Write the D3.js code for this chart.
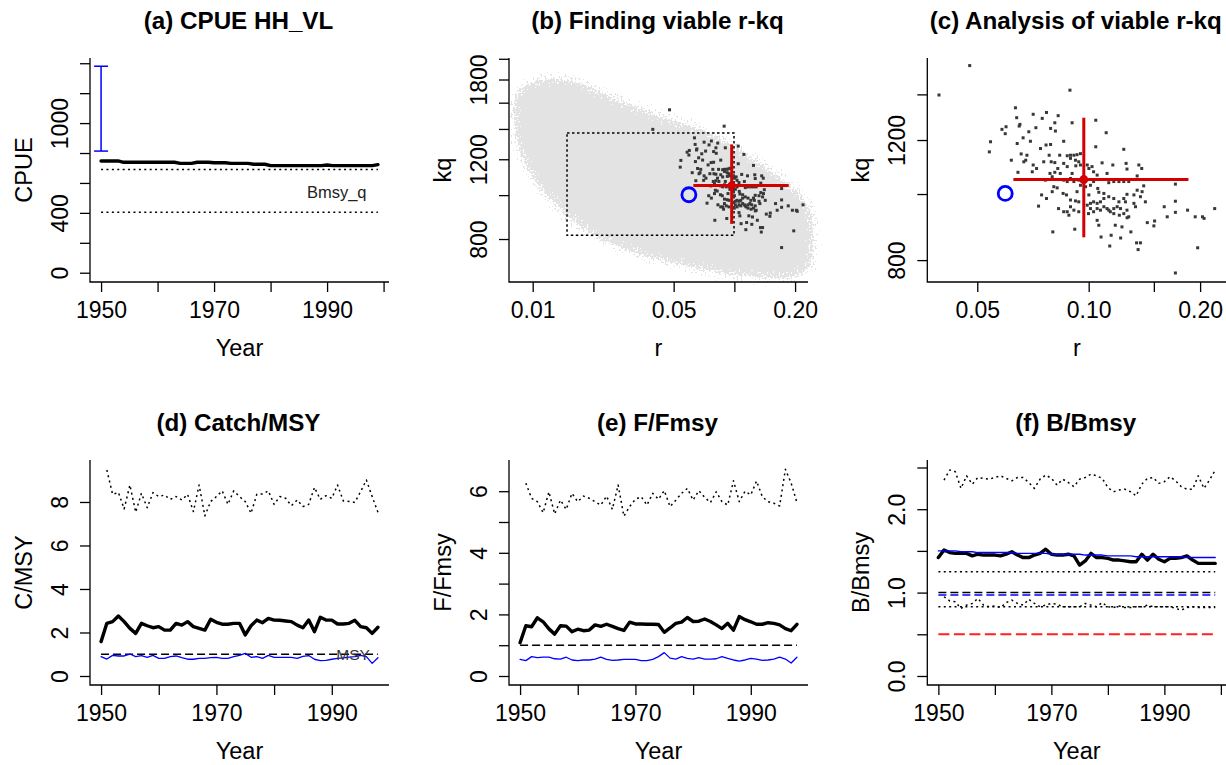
<!DOCTYPE html>
<html>
<head>
<meta charset="utf-8">
<script src="https://d3js.org/d3.v7.min.js"></script>
<style>
  body { margin: 0; background: #fff; }
</style>
</head>
<body>
<svg id="chart" width="1226" height="765"></svg>
<script>
// ---------- data ----------
// (a) CPUE
const cpue = [747, 747, 747, 747, 738, 738, 738, 738, 738, 738,
              738, 738, 738, 738, 731, 731, 731, 738, 738, 738,
              735, 735, 735, 731, 731, 731, 731, 725, 725, 725,
              716, 716, 716, 716, 716, 716, 716, 716, 716, 716,
              720, 716, 716, 716, 716, 716, 716, 716, 716, 722];
const cpueRange = [813, 1380];
const cpueRefs = [690, 404];

// (b), (c) r-kq
const cloudR = [0.00872, 0.01075, 0.01457, 0.01901, 0.02482, 0.03365, 0.04563, 0.05955, 0.07483, 0.0940,
                0.1181, 0.1484, 0.1795, 0.2131, 0.230, 0.2317, 0.2285, 0.1865, 0.1375, 0.0940,
                0.0643, 0.0439, 0.0324, 0.0239, 0.0183, 0.01457, 0.0116, 0.00977, 0.00882, 0.00849];
const cloudKq = [1680, 1753, 1759, 1695, 1597, 1518, 1443, 1395, 1337, 1271,
                 1187, 1109, 1037, 969, 890, 777, 702, 673, 673, 684,
                 708, 733, 764, 804, 860, 937, 1037, 1167, 1314, 1505];
const viableR = [0.0477, 0.0394, 0.0890, 0.1715, 0.197, 0.219, 0.203, 0.205, 0.194, 0.185,
  0.1715, 0.1715, 0.1715, 0.160, 0.163, 0.1507, 0.150, 0.144, 0.138, 0.1347,
  0.136, 0.130, 0.122, 0.115, 0.114, 0.108, 0.123, 0.118, 0.127, 0.121,
  0.080, 0.0917, 0.0732, 0.0769, 0.0746, 0.1065, 0.1054, 0.0999,
  0.0634, 0.0708, 0.0749, 0.0769, 0.0827, 0.0902, 0.081, 0.0789, 0.0813, 0.072,
  0.0689, 0.0652, 0.0598, 0.0583, 0.0595, 0.0543, 0.0539, 0.0641, 0.0665, 0.0696,
  0.0741, 0.0767, 0.0789, 0.0856, 0.0639, 0.0649, 0.0681, 0.0657, 0.0676, 0.0708,
  0.0723, 0.0756, 0.0782, 0.0792, 0.081, 0.0835, 0.0856, 0.0875, 0.0893, 0.0912,
  0.0930, 0.095, 0.0893, 0.0921, 0.094, 0.0838, 0.081, 0.0786, 0.0825, 0.0704,
  0.0644, 0.0618, 0.0668, 0.0902, 0.0923, 0.095, 0.0875, 0.1045, 0.1115, 0.1045,
  0.1244, 0.1087, 0.1162, 0.1262, 0.1269, 0.1366, 0.1391,
  0.0991, 0.1021, 0.1001, 0.1031, 0.1054, 0.1121, 0.1133, 0.1169, 0.1207, 0.1244,
  0.1283, 0.1352, 0.1408, 0.1352, 0.1394, 0.1325, 0.1269, 0.1244, 0.1207, 0.1257,
  0.1169, 0.1133, 0.1099, 0.1076, 0.1054, 0.1031, 0.1011, 0.0991, 0.1001, 0.1065,
  0.1058, 0.1011, 0.1031, 0.0981, 0.1099, 0.1121, 0.1144, 0.1169, 0.1194, 0.1219,
  0.1269, 0.1244, 0.1283, 0.1169, 0.1133, 0.1099, 0.1076, 0.1054, 0.1031, 0.1011,
  0.1423, 0.138, 0.1325, 0.1338,
  0.0875, 0.0893, 0.0912, 0.094, 0.0856, 0.0805, 0.0822, 0.0797, 0.0853, 0.0871,
  0.0893, 0.0921, 0.0893, 0.0912, 0.094, 0.0875, 0.0856, 0.0829, 0.0884, 0.094,
  0.093, 0.095, 0.0797, 0.0764];
const viableKq = [1543, 1397, 1420, 766, 834, 952, 926, 921, 926, 947,
  976, 940, 1034, 958, 926, 913, 898, 908, 848, 848,
  829, 880, 862, 870, 839, 865, 895, 900, 923, 931,
  880, 888, 960, 985, 997, 900, 915, 936,
  1338, 1309, 1291, 1317, 1303, 1272, 1272, 1248, 1237, 1251,
  1234, 1265, 1255, 1244, 1226, 1193, 1153, 1186, 1209, 1195,
  1166, 1180, 1182, 1195, 1294, 1258, 1140, 1145, 1121, 1103,
  1090, 1115, 1140, 1115, 1112, 1140, 1109, 1138, 1140, 1140,
  1142, 1146, 1128, 1121, 1115, 1072, 1076, 1072, 1090, 1078,
  1076, 1121, 1115, 1072, 1100, 1103, 1097, 1283, 1230, 1173,
  1163, 1111, 1103, 1109, 1088, 1103, 1090,
  1103, 1097, 1090, 1078, 1066, 1072, 1039, 1043, 1043, 1043,
  1043, 1063, 1028, 1013, 1008, 997, 999, 985, 974, 974,
  985, 991, 985, 974, 969, 974, 969, 963, 997, 1006,
  1019, 1030, 1043, 1025, 1002, 952, 942, 952, 958, 952,
  947, 936, 926, 936, 947, 958, 947, 952, 942, 952,
  974, 991, 969, 958,
  1043, 1054, 1043, 1048, 1048, 1025, 1021, 1008, 1002, 997,
  980, 977, 958, 947, 942, 942, 942, 952, 931, 974,
  1008, 1030, 1060, 1048];
const boxR = [0.0148, 0.0996];
const boxKq = [815, 1371];
const crossR = [0.0626, 0.097, 0.186];
const crossKq = [864, 1050, 1294];
const priorR = 0.0595, priorKq = 1002;

// (d) Catch/MSY, 1950-1998 (upper from 1951)
const catchMsy = [1.58, 2.42, 2.50, 2.76, 2.50, 2.19, 1.96, 2.42, 2.31, 2.22,
                  2.27, 2.11, 2.11, 2.42, 2.34, 2.50, 2.27, 2.19, 2.11, 2.61,
                  2.47, 2.38, 2.38, 2.42, 2.42, 1.89, 2.31, 2.57, 2.45, 2.65,
                  2.57, 2.56, 2.53, 2.50, 2.34, 2.22, 2.57, 2.04, 2.70, 2.57,
                  2.57, 2.39, 2.39, 2.42, 2.56, 2.27, 2.22, 1.96, 2.24];
const catchUpper = [9.47, 8.35, 8.44, 7.68, 8.78, 7.53, 8.40, 7.74, 8.43,
                    8.25, 8.32, 8.12, 8.25, 8.09, 8.35, 7.56, 8.78, 7.36, 8.02,
                    8.25, 8.51, 7.89, 8.51, 8.25, 8.02, 7.48, 8.35, 8.37, 8.51,
                    7.89, 8.25, 8.17, 7.83, 8.09, 7.79, 7.89, 8.67, 8.12, 8.29,
                    8.17, 8.78, 8.05, 8.02, 7.98, 8.48, 9.01, 8.25, 7.53];
const catchBlue = [0.89, 0.78, 0.95, 0.92, 0.92, 1.01, 0.89, 0.94, 0.86, 0.95,
                   0.81, 0.81, 0.89, 0.92, 0.84, 0.77, 0.77, 0.81, 0.81, 0.84,
                   0.86, 0.81, 0.81, 0.89, 0.95, 1.04, 0.86, 0.89, 0.81, 0.95,
                   0.86, 0.86, 0.86, 0.86, 0.81, 0.90, 0.94, 0.77, 0.71, 0.72,
                   0.77, 0.81, 0.83, 0.87, 0.89, 0.95, 0.89, 0.58, 0.84];

// (e) F/Fmsy, 1950-1998 (upper from 1951)
const fRatio = [1.08, 1.63, 1.60, 1.89, 1.76, 1.53, 1.36, 1.63, 1.62, 1.44,
                1.52, 1.47, 1.49, 1.66, 1.61, 1.68, 1.61, 1.54, 1.48, 1.75,
                1.69, 1.69, 1.68, 1.68, 1.67, 1.42, 1.56, 1.71, 1.75, 1.90,
                1.77, 1.78, 1.85, 1.77, 1.66, 1.54, 1.71, 1.49, 1.93, 1.83,
                1.76, 1.68, 1.68, 1.73, 1.71, 1.66, 1.54, 1.47, 1.68];
const fUpper = [6.26, 5.77, 5.66, 5.30, 5.98, 5.26, 5.71, 5.41, 5.93,
                5.66, 5.84, 5.77, 5.66, 5.55, 5.84, 5.41, 6.20, 5.19, 5.50,
                5.74, 5.82, 5.55, 5.93, 5.74, 6.02, 5.50, 5.71, 5.93, 6.09,
                5.71, 6.02, 5.80, 5.63, 5.98, 5.66, 5.55, 6.34, 5.66, 6.00,
                5.88, 6.33, 5.82, 5.66, 5.61, 5.52, 6.71, 6.26, 5.63];
const fBlue = [0.54, 0.50, 0.63, 0.60, 0.61, 0.61, 0.56, 0.55, 0.61, 0.52,
               0.50, 0.52, 0.52, 0.55, 0.61, 0.54, 0.51, 0.52, 0.54, 0.54,
               0.54, 0.50, 0.50, 0.54, 0.63, 0.76, 0.58, 0.55, 0.63, 0.57,
               0.55, 0.60, 0.55, 0.55, 0.56, 0.63, 0.57, 0.52, 0.48, 0.52,
               0.57, 0.55, 0.51, 0.52, 0.55, 0.61, 0.55, 0.42, 0.61];

// (f) B/Bmsy, 1950-1999 (upper/lower from 1951)
const bRatio = [1.42, 1.51, 1.48, 1.47, 1.47, 1.47, 1.44, 1.46, 1.45, 1.45,
                1.45, 1.44, 1.46, 1.49, 1.45, 1.42, 1.42, 1.45, 1.47, 1.52,
                1.46, 1.45, 1.45, 1.46, 1.44, 1.33, 1.38, 1.47, 1.42, 1.42,
                1.41, 1.39, 1.39, 1.38, 1.37, 1.37, 1.46, 1.39, 1.46, 1.40,
                1.37, 1.41, 1.41, 1.42, 1.44, 1.39, 1.35, 1.35, 1.35, 1.35];
const bBlue = [1.50, 1.50, 1.50, 1.50, 1.49, 1.49, 1.49, 1.48, 1.48, 1.48,
               1.48, 1.48, 1.48, 1.48, 1.47, 1.47, 1.47, 1.47, 1.47, 1.47,
               1.46, 1.46, 1.46, 1.46, 1.46, 1.46, 1.45, 1.45, 1.45, 1.45,
               1.44, 1.44, 1.44, 1.44, 1.44, 1.43, 1.43, 1.43, 1.43, 1.43,
               1.43, 1.43, 1.43, 1.43, 1.42, 1.42, 1.42, 1.42, 1.42, 1.42];
const bUpper = [2.35, 2.47, 2.45, 2.25, 2.40, 2.30, 2.38, 2.37, 2.36,
                2.38, 2.40, 2.37, 2.34, 2.38, 2.38, 2.32, 2.25, 2.36, 2.41,
                2.37, 2.29, 2.36, 2.32, 2.27, 2.36, 2.38, 2.42, 2.40, 2.37,
                2.26, 2.21, 2.23, 2.24, 2.21, 2.16, 2.30, 2.37, 2.38, 2.31,
                2.33, 2.39, 2.34, 2.27, 2.24, 2.24, 2.40, 2.25, 2.35, 2.47];
const bLower = [0.95, 0.90, 0.89, 0.81, 0.85, 0.87, 0.93, 0.85, 0.83,
                0.84, 0.82, 0.88, 0.91, 0.87, 0.85, 0.92, 0.87, 0.83, 0.85,
                0.87, 0.86, 0.83, 0.83, 0.83, 0.83, 0.87, 0.85, 0.83, 0.88,
                0.83, 0.82, 0.84, 0.82, 0.82, 0.83, 0.83, 0.85, 0.83, 0.83,
                0.83, 0.83, 0.81, 0.79, 0.82, 0.83, 0.82, 0.82, 0.82, 0.82];
const bRefs = { dot: 1.25, dash: 1.0, blueDash: 0.97, lowDot: 0.83, red: 0.5 };

// ---------- drawing ----------
const FONT = '"Liberation Sans", Arial, Helvetica, sans-serif';
const svg = d3.select("#chart");
svg.append("rect").attr("width", 1226).attr("height", 765).attr("fill", "#fff");

function pad(a, b) { const d = (b - a) * 0.04; return [a - d, b + d]; }
const years = (start, n) => d3.range(start, start + n);

function frame(o) {
  const g = svg.append("g").attr("transform", `translate(${o.left},${o.top})`);
  o.x.range([0, o.w]);
  o.y.range([o.h, 0]);
  return g;
}

function axes(g, o) {
  const gx = g.append("g").attr("transform", `translate(0,${o.h})`)
    .call(d3.axisBottom(o.x).tickValues(o.xTicks).tickSize(10).tickSizeOuter(0)
      .tickFormat(d => o.xLabels.includes(d) ? o.xFmt(d) : ""));
  gx.selectAll("text").attr("y", 36).attr("dy", 0)
    .style("font-family", FONT).style("font-size", "23px").attr("fill", "#000");
  const gy = g.append("g")
    .call(d3.axisLeft(o.y).tickValues(o.yTicks).tickSize(10).tickSizeOuter(0)
      .tickFormat(d => o.yLabels.includes(d) ? o.yFmt(d) : ""));
  gy.selectAll("text").attr("x", 0).attr("dy", 0).attr("text-anchor", "middle")
    .attr("transform", "translate(-22,0) rotate(-90)")
    .style("font-family", FONT).style("font-size", "23px").attr("fill", "#000");
  g.selectAll(".domain").remove();
  g.selectAll(".tick line").attr("stroke", "#000").attr("stroke-width", 1.3);
  g.append("path").attr("d", `M0,0V${o.h}H${o.w}`)
    .attr("fill", "none").attr("stroke", "#000").attr("stroke-width", 1.3);

  g.append("text").attr("x", o.w / 2 - 1).attr("y", -29).attr("text-anchor", "middle")
    .style("font-family", FONT).style("font-size", "24.2px").style("font-weight", "bold")
    .text(o.title);
  g.append("text").attr("x", o.w / 2).attr("y", o.h + 74).attr("text-anchor", "middle")
    .style("font-family", FONT).style("font-size", "23.5px").text(o.xTitle);
  g.append("text").attr("transform", `translate(-58,${o.h / 2}) rotate(-90)`)
    .attr("text-anchor", "middle")
    .style("font-family", FONT).style("font-size", "23.5px").text(o.yTitle);
}

function series(g, o, xs, vals, s) {
  g.append("path").datum(vals)
    .attr("d", d3.line().x((d, i) => o.x(xs[i])).y(d => o.y(d)))
    .attr("fill", "none").attr("stroke", s.c).attr("stroke-width", s.w)
    .attr("stroke-dasharray", s.dash || null)
    .attr("stroke-linejoin", "round").attr("stroke-linecap", s.dash ? "butt" : "round");
}
const hline = (g, o, x0, x1, v, s) => series(g, o, [x0, x1], [v, v], s);

const THICK = { c: "#000", w: 3.4 };
const DOTTED = { c: "#000", w: 1.5, dash: "2,3.4" };
const DASHED = { c: "#000", w: 1.5, dash: "8,4" };
const BLUE = { c: "#0000ff", w: 1.3 };
const RED = "#d40000";

const fmtInt = d3.format("d");
const yearTicks = [1950, 1960, 1970, 1980, 1990, 2000];
const yearLabels = [1950, 1970, 1990];

// ---- (a) CPUE ----
{
  const yrs = years(1950, cpue.length);
  const o = { left: 90, top: 58, w: 299, h: 224,
    x: d3.scaleLinear().domain(pad(1950, 1999)), y: d3.scaleLinear().domain([-62, 1435]),
    xTicks: yearTicks, xLabels: yearLabels, xFmt: fmtInt,
    yTicks: [0, 200, 400, 600, 800, 1000, 1200, 1400], yLabels: [0, 400, 1000], yFmt: fmtInt,
    title: "(a) CPUE HH_VL", xTitle: "Year", yTitle: "CPUE" };
  const g = frame(o);
  axes(g, o);
  cpueRefs.forEach(v => hline(g, o, 1950, 1999, v, DOTTED));
  series(g, o, yrs, cpue, THICK);
  const bx = o.x(1950);
  g.append("line").attr("x1", bx).attr("x2", bx).attr("y1", o.y(cpueRange[0])).attr("y2", o.y(cpueRange[1]))
    .attr("stroke", "#0000ff").attr("stroke-width", 1.5);
  cpueRange.forEach(v => g.append("line").attr("x1", bx - 7).attr("x2", bx + 7)
    .attr("y1", o.y(v)).attr("y2", o.y(v)).attr("stroke", "#0000ff").attr("stroke-width", 1.5));
  g.append("text").attr("x", o.x(1991.7)).attr("y", o.y(535)).attr("dy", "0.35em")
    .attr("text-anchor", "middle").style("font-family", FONT).style("font-size", "16.5px")
    .attr("fill", "#222").text("Bmsy_q");
}

// shared r-kq drawing
function drawCross(g, o, rr) {
  g.append("line").attr("x1", o.x(crossR[0])).attr("x2", o.x(crossR[2]))
    .attr("y1", o.y(crossKq[1])).attr("y2", o.y(crossKq[1])).attr("stroke", RED).attr("stroke-width", 3);
  g.append("line").attr("x1", o.x(crossR[1])).attr("x2", o.x(crossR[1]))
    .attr("y1", o.y(crossKq[0])).attr("y2", o.y(crossKq[2])).attr("stroke", RED).attr("stroke-width", 3);
  g.append("circle").attr("cx", o.x(crossR[1])).attr("cy", o.y(crossKq[1])).attr("r", rr).attr("fill", RED);
  g.append("circle").attr("cx", o.x(priorR)).attr("cy", o.y(priorKq)).attr("r", 7)
    .attr("fill", "none").attr("stroke", "#0000ff").attr("stroke-width", 2.8);
}
function drawViable(g, o) {
  g.append("g").selectAll("rect").data(viableR).join("rect")
    .attr("x", (d, i) => o.x(d) - 1.5).attr("y", (d, i) => o.y(viableKq[i]) - 1.5)
    .attr("width", 3).attr("height", 3).attr("fill", "#383838");
}

// ---- (b) Finding viable r-kq ----
{
  const o = { left: 509, top: 58, w: 299, h: 224,
    x: d3.scaleLog().domain([0.00763, 0.2318]), y: d3.scaleLog().domain([643, 2008]),
    xTicks: [0.01, 0.02, 0.05, 0.1, 0.2], xLabels: [0.01, 0.05, 0.2], xFmt: d3.format(".2f"),
    yTicks: [800, 1000, 1200, 1400, 1600, 1800, 2000], yLabels: [800, 1200, 1800], yFmt: fmtInt,
    title: "(b) Finding viable r-kq", xTitle: "r", yTitle: "kq" };
  const g = frame(o);

  // speckled edge for the dense cloud of explored r-kq pairs
  const f = svg.append("defs").append("filter").attr("id", "speckle")
    .attr("x", "-15%").attr("y", "-15%").attr("width", "130%").attr("height", "130%");
  f.append("feGaussianBlur").attr("in", "SourceAlpha").attr("stdDeviation", 8).attr("result", "b");
  f.append("feTurbulence").attr("type", "fractalNoise").attr("baseFrequency", 0.5)
    .attr("numOctaves", 1).attr("seed", 4).attr("result", "n");
  f.append("feColorMatrix").attr("in", "n").attr("type", "matrix")
    .attr("values", "0 0 0 0 0  0 0 0 0 0  0 0 0 0 0  1.8 0 0 0 -0.4").attr("result", "na");
  f.append("feComposite").attr("in", "b").attr("in2", "na").attr("operator", "arithmetic")
    .attr("k1", 0).attr("k2", 1).attr("k3", 0.75).attr("k4", -0.35).attr("result", "m");
  f.append("feComponentTransfer").attr("in", "m").attr("result", "mask")
    .append("feFuncA").attr("type", "discrete").attr("tableValues", "0 1");
  f.append("feFlood").attr("flood-color", "#e3e3e3").attr("result", "col");
  f.append("feComposite").attr("in", "col").attr("in2", "mask").attr("operator", "in");

  g.append("path").datum(cloudR)
    .attr("d", d3.line().x((d, i) => o.x(d)).y((d, i) => o.y(cloudKq[i])).curve(d3.curveCatmullRomClosed))
    .attr("fill", "#000").attr("stroke", "#000").attr("stroke-width", 8)
    .attr("filter", "url(#speckle)");
  g.append("rect").attr("x", o.x(boxR[0])).attr("y", o.y(boxKq[1]))
    .attr("width", o.x(boxR[1]) - o.x(boxR[0])).attr("height", o.y(boxKq[0]) - o.y(boxKq[1]))
    .attr("fill", "none").attr("stroke", "#000").attr("stroke-width", 1.5).attr("stroke-dasharray", "2.5,2.5");
  drawViable(g, o);
  drawCross(g, o, 4);
  axes(g, o);
}

// ---- (c) Analysis of viable r-kq ----
{
  const o = { left: 927.3, top: 58, w: 299, h: 224,
    x: d3.scaleLog().domain([0.03664, 0.2354]), y: d3.scaleLog().domain([743, 1583]),
    xTicks: [0.05, 0.1, 0.15, 0.2], xLabels: [0.05, 0.1, 0.2], xFmt: d3.format(".2f"),
    yTicks: [800, 1000, 1200, 1400], yLabels: [800, 1200], yFmt: fmtInt,
    title: "(c) Analysis of viable r-kq", xTitle: "r", yTitle: "kq" };
  const g = frame(o);
  drawViable(g, o);
  drawCross(g, o, 4.5);
  axes(g, o);
}

// ---- (d) Catch/MSY ----
{
  const o = { left: 90, top: 460, w: 299, h: 225,
    x: d3.scaleLinear().domain(pad(1950, 1998)), y: d3.scaleLinear().domain([-0.414, 9.93]),
    xTicks: yearTicks.filter(d => d <= 1998 + 1.92), xLabels: yearLabels, xFmt: fmtInt,
    yTicks: [0, 2, 4, 6, 8], yLabels: [0, 2, 4, 6, 8], yFmt: fmtInt,
    title: "(d) Catch/MSY", xTitle: "Year", yTitle: "C/MSY" };
  const g = frame(o);
  axes(g, o);
  series(g, o, years(1951, catchUpper.length), catchUpper, DOTTED);
  hline(g, o, 1950, 1998, 1, DASHED);
  series(g, o, years(1950, catchBlue.length), catchBlue, BLUE);
  series(g, o, years(1950, catchMsy.length), catchMsy, THICK);
  g.append("text").attr("x", o.x(1993.7)).attr("y", o.y(1)).attr("dy", "0.35em")
    .attr("text-anchor", "middle").style("font-family", FONT).style("font-size", "15.5px")
    .attr("fill", "#333").text("MSY");
}

// ---- (e) F/Fmsy ----
{
  const o = { left: 509, top: 460, w: 299, h: 225,
    x: d3.scaleLinear().domain(pad(1950, 1998)), y: d3.scaleLinear().domain([-0.292, 7.013]),
    xTicks: yearTicks.filter(d => d <= 1998 + 1.92), xLabels: yearLabels, xFmt: fmtInt,
    yTicks: [0, 1, 2, 3, 4, 5, 6], yLabels: [0, 2, 4, 6], yFmt: fmtInt,
    title: "(e) F/Fmsy", xTitle: "Year", yTitle: "F/Fmsy" };
  const g = frame(o);
  axes(g, o);
  series(g, o, years(1951, fUpper.length), fUpper, DOTTED);
  hline(g, o, 1950, 1998, 1, DASHED);
  series(g, o, years(1950, fBlue.length), fBlue, BLUE);
  series(g, o, years(1950, fRatio.length), fRatio, THICK);
}

// ---- (f) B/Bmsy ----
{
  const o = { left: 927.3, top: 460, w: 299, h: 225,
    x: d3.scaleLinear().domain(pad(1950, 1999)), y: d3.scaleLinear().domain([-0.108, 2.59]),
    xTicks: yearTicks, xLabels: yearLabels, xFmt: fmtInt,
    yTicks: [0, 0.5, 1, 1.5, 2, 2.5], yLabels: [0, 1, 2], yFmt: d3.format(".1f"),
    title: "(f) B/Bmsy", xTitle: "Year", yTitle: "B/Bmsy" };
  const g = frame(o);
  axes(g, o);
  series(g, o, years(1951, bUpper.length), bUpper, DOTTED);
  hline(g, o, 1950, 1999, bRefs.dot, DOTTED);
  hline(g, o, 1950, 1999, bRefs.dash, DASHED);
  hline(g, o, 1950, 1999, bRefs.blueDash, { c: "#0000ff", w: 1.5, dash: "8,4" });
  hline(g, o, 1950, 1999, bRefs.lowDot, DOTTED);
  series(g, o, years(1951, bLower.length), bLower, DOTTED);
  hline(g, o, 1950, 1999, bRefs.red, { c: "#ff2020", w: 2, dash: "11,4.5" });
  series(g, o, years(1950, bRatio.length), bRatio, THICK);
  series(g, o, years(1950, bBlue.length), bBlue, { c: "#0000ff", w: 1.4 });
}
</script>
</body>
</html>
